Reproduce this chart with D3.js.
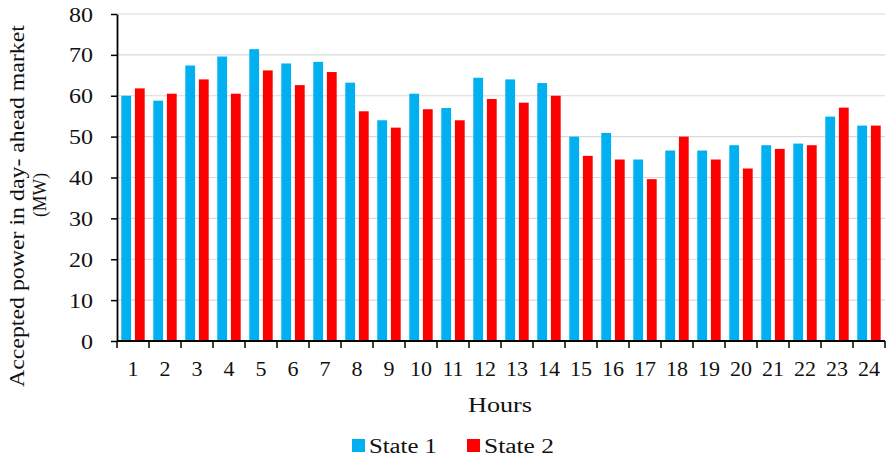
<!DOCTYPE html>
<html>
<head>
<meta charset="utf-8">
<script src="https://cdn.jsdelivr.net/npm/d3@7"></script>
<style>
  body { margin: 0; background: #fff; }
  svg { display: block; }
  text { font-family: "Liberation Serif", "Times New Roman", serif; fill: #111; }
</style>
</head>
<body>
<svg id="chart" width="886" height="459"></svg>
<script>
const hours = ["1","2","3","4","5","6","7","8","9","10","11","12","13","14","15","16","17","18","19","20","21","22","23","24"];
const seriesNames = ["State 1", "State 2"];
const state1 = [60.0, 58.8, 67.4, 69.6, 71.4, 67.9, 68.3, 63.2, 54.0, 60.5, 57.0, 64.4, 64.0, 63.1, 50.0, 50.9, 44.4, 46.6, 46.6, 47.9, 47.9, 48.3, 54.9, 52.7];
const state2 = [61.8, 60.5, 64.0, 60.5, 66.2, 62.6, 65.8, 56.2, 52.2, 56.7, 54.0, 59.2, 58.3, 60.0, 45.3, 44.4, 39.6, 50.0, 44.4, 42.2, 47.0, 47.9, 57.1, 52.7];
const yTicks = [0, 10, 20, 30, 40, 50, 60, 70, 80];
const colors = ["#00B0F0", "#FF0000"];

(function () {
const svg = d3.select("#chart");
const mLeft = 117, mRight = 885, mTop = 14, mBottom = 341;

const x0 = d3.scaleBand().domain(hours).range([mLeft, mRight]).paddingInner(0).paddingOuter(0);
const bw = x0.bandwidth();
const x1 = d3.scaleBand().domain(seriesNames).range([4.3, bw - 4.3]).paddingInner(0.28);
const y = d3.scaleLinear().domain([0, 80]).range([mBottom, mTop]);

// gridlines
svg.append("g").selectAll("line").data(yTicks.filter(d => d > 0)).join("line")
  .attr("x1", mLeft).attr("x2", mRight)
  .attr("y1", d => y(d)).attr("y2", d => y(d))
  .attr("stroke", "#d9d9d9").attr("stroke-width", 1.2);

// bars
const data = hours.map((h, i) => ({ h, vals: [state1[i], state2[i]] }));
const groups = svg.append("g").selectAll("g").data(data).join("g")
  .attr("transform", d => `translate(${x0(d.h)},0)`);
groups.selectAll("rect").data(d => d.vals.map((v, j) => ({ s: seriesNames[j], v, j }))).join("rect")
  .attr("x", d => x1(d.s))
  .attr("width", x1.bandwidth())
  .attr("y", d => y(d.v))
  .attr("height", d => y(0) - y(d.v))
  .attr("fill", d => colors[d.j]);

// y axis
const yAxis = svg.append("g").attr("transform", `translate(${mLeft},0)`)
  .call(d3.axisLeft(y).tickValues(yTicks).tickSize(6).tickSizeOuter(0).tickPadding(0).tickFormat(d3.format("d")));
yAxis.select(".domain").attr("stroke", "#000").attr("stroke-width", 1.8);
yAxis.selectAll(".tick line").attr("stroke", "#000").attr("stroke-width", 1.5);
yAxis.selectAll(".tick text").remove();
yAxis.selectAll(".tick").append("text")
  .attr("x", -24).attr("y", 0).attr("dy", "0.35em")
  .attr("text-anchor", "end")
  .attr("font-size", 20)
  .attr("textLength", d => String(d).length * 12)
  .attr("lengthAdjust", "spacingAndGlyphs")
  .text(d => d);

// x axis with ticks at band boundaries
const xAxisG = svg.append("g");
xAxisG.append("line")
  .attr("x1", mLeft).attr("x2", mRight).attr("y1", mBottom).attr("y2", mBottom)
  .attr("stroke", "#000").attr("stroke-width", 1.8);
const boundaries = hours.map(h => x0(h) + bw).concat([mLeft]);
xAxisG.selectAll("line.tk").data(boundaries).join("line").attr("class", "tk")
  .attr("x1", d => d).attr("x2", d => d)
  .attr("y1", mBottom).attr("y2", mBottom + 7)
  .attr("stroke", "#000").attr("stroke-width", 1.5);
xAxisG.selectAll("text").data(hours).join("text")
  .attr("x", d => x0(d) + bw / 2)
  .attr("y", 376)
  .attr("text-anchor", "middle")
  .attr("font-size", 22)
  .text(d => d);

// axis titles
svg.append("text")
  .attr("x", 500).attr("y", 412)
  .attr("text-anchor", "middle")
  .attr("font-size", 22)
  .attr("textLength", 64).attr("lengthAdjust", "spacingAndGlyphs")
  .text("Hours");

svg.append("text")
  .attr("transform", "translate(24,206) rotate(-90)")
  .attr("text-anchor", "middle")
  .attr("font-size", 22)
  .attr("textLength", 362).attr("lengthAdjust", "spacingAndGlyphs")
  .text("Accepted power in day- ahead market");
svg.append("text")
  .attr("transform", "translate(46,195) rotate(-90)")
  .attr("text-anchor", "middle")
  .attr("font-size", 19)
  .attr("textLength", 44).attr("lengthAdjust", "spacingAndGlyphs")
  .text("(MW)");

// legend
const legendX = [352, 467];
const legendTextLen = [68, 70];
const legend = svg.append("g").selectAll("g").data(seriesNames).join("g");
legend.append("rect")
  .attr("x", (d, i) => legendX[i]).attr("y", 439)
  .attr("width", 13).attr("height", 13)
  .attr("fill", (d, i) => colors[i]);
legend.append("text")
  .attr("x", (d, i) => legendX[i] + 17).attr("y", 452.5)
  .attr("font-size", 20)
  .attr("textLength", (d, i) => legendTextLen[i]).attr("lengthAdjust", "spacingAndGlyphs")
  .text(d => d);
})();
</script>
</body>
</html>
